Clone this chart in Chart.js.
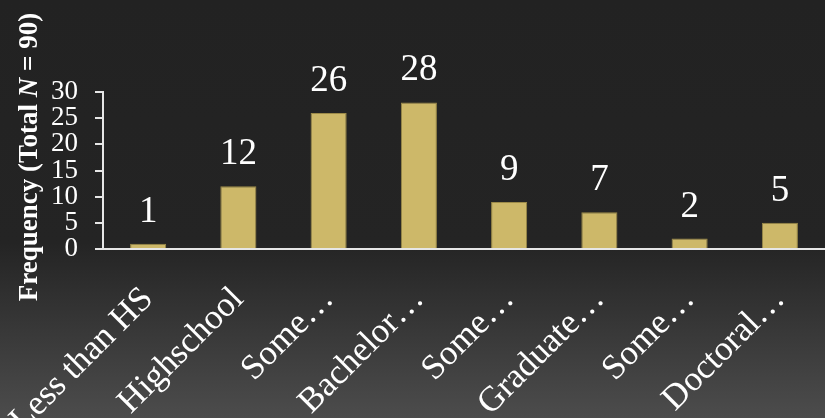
<!DOCTYPE html>
<html>
<head>
<meta charset="utf-8">
<script src="https://cdn.jsdelivr.net/npm/chart.js@4"></script>
<style>
  html, body { margin: 0; padding: 0; }
  body {
    width: 825px; height: 418px; overflow: hidden;
    background: linear-gradient(180deg, #222222 0%, #242424 58%, #4c4c4c 100%);
  }
  #wrap { position: relative; width: 825px; height: 418px; }
</style>
</head>
<body>
<div id="wrap"><canvas id="chart"></canvas></div>
<script>
const categories = ['Less than HS', 'Highschool', 'Some…', 'Bachelor…', 'Some…', 'Graduate…', 'Some…', 'Doctoral…'];
const frequency = [1, 12, 26, 28, 9, 7, 2, 5];
const yTicks = [0, 5, 10, 15, 20, 25, 30];

const SERIF = '"Liberation Serif", "DejaVu Serif", serif';

// valori sopra le barre
const valueLabels = {
  id: 'valueLabels',
  afterDatasetsDraw(chart) {
    const ctx = chart.ctx;
    const meta = chart.getDatasetMeta(0);
    ctx.save();
    ctx.fillStyle = '#ffffff';
    ctx.font = '37px ' + SERIF;
    ctx.textAlign = 'center';
    ctx.textBaseline = 'alphabetic';
    meta.data.forEach((bar, i) => {
      ctx.fillText(String(frequency[i]), bar.x, bar.y - 22);
    });
    ctx.restore();
  }
};

// titolo asse y con N in corsivo
const yTitle = {
  id: 'yTitle',
  afterDraw(chart) {
    const ctx = chart.ctx;
    const parts = [
      { t: 'Frequency (Total ', f: 'bold 27px ' + SERIF },
      { t: 'N', f: 'italic bold 27px ' + SERIF },
      { t: ' = 90)', f: 'bold 27px ' + SERIF }
    ];
    ctx.save();
    let total = 0;
    parts.forEach(p => { ctx.font = p.f; p.w = ctx.measureText(p.t).width; total += p.w; });
    ctx.translate(37, 157);
    ctx.rotate(-Math.PI / 2);
    ctx.fillStyle = '#ffffff';
    ctx.textBaseline = 'alphabetic';
    let x = -total / 2;
    parts.forEach(p => { ctx.font = p.f; ctx.fillText(p.t, x, 0); x += p.w; });
    ctx.restore();
  }
};

new Chart(document.getElementById('chart'), {
  type: 'bar',
  plugins: [valueLabels, yTitle],
  data: {
    labels: categories,
    datasets: [{
      data: frequency,
      backgroundColor: '#cdb869',
      borderColor: '#9c8a48',
      borderWidth: 1,
      barPercentage: 0.4,
      categoryPercentage: 1
    }]
  },
  options: {
    responsive: true,
    maintainAspectRatio: false,
    animation: false,
    layout: { padding: { top: 92, right: 0, left: 0, bottom: 0 } },
    plugins: { legend: { display: false }, tooltip: { enabled: false } },
    scales: {
      x: {
        grid: { display: false },
        border: { display: true, color: '#e6e6e6', width: 2 },
        afterFit(scale) { scale.height = 169; scale.paddingLeft = 0; scale.paddingRight = 0; },
        ticks: {
          color: '#ffffff',
          font: { family: SERIF, size: 35 },
          minRotation: 45,
          maxRotation: 45,
          autoSkip: false,
          padding: 22
        }
      },
      y: {
        min: 0,
        max: 30,
        afterFit(scale) { scale.width = 103; },
        afterBuildTicks(scale) { scale.ticks = yTicks.map(v => ({ value: v })); },
        grid: { drawOnChartArea: false, drawTicks: true, tickLength: 8, color: '#e6e6e6', lineWidth: 2 },
        border: { display: true, color: '#e6e6e6', width: 2 },
        ticks: {
          color: '#ffffff',
          font: { family: SERIF, size: 27 },
          padding: 17,
          autoSkip: false,
          stepSize: 5
        }
      }
    }
  }
});
</script>
</body>
</html>
